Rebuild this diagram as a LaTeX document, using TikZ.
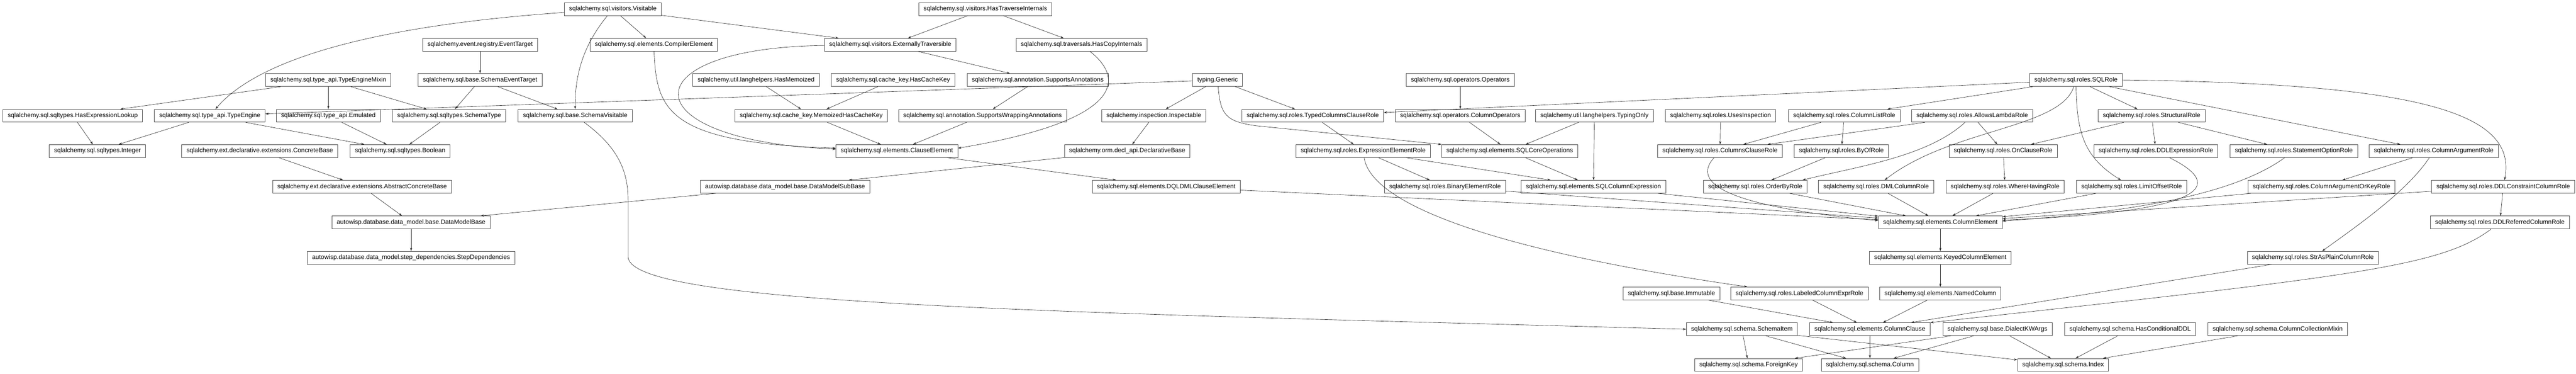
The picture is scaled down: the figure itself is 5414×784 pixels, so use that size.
\documentclass[tikz,border=0pt]{standalone}
\usepackage{fontspec}
\setmainfont{Liberation Sans}
\usetikzlibrary{arrows.meta}
\tikzset{>={Stealth[length=7pt,width=4.5pt]}}
\tikzset{cls/.style={draw=black!70, fill=white, line width=0.9pt, inner xsep=10pt, inner ysep=0pt, minimum height=27pt, font=\fontsize{13.2}{15}\selectfont}}
\tikzset{inh/.style={->, draw=black!85, line width=0.7pt}}

\begin{document}
\begin{tikzpicture}[x=1pt, y=-1pt]
    \useasboundingbox (0,0) rectangle (5414,784);

    \node[cls] (visitable) at (1288,19) {sqlalchemy.sql.visitors.Visitable};
    \node[cls] (hastraverse) at (2071,19) {sqlalchemy.sql.visitors.HasTraverseInternals};

    \node[cls] (eventtarget) at (1009,94) {sqlalchemy.event.registry.EventTarget};
    \node[cls] (compilerel) at (1374,94) {sqlalchemy.sql.elements.CompilerElement};
    \node[cls] (exttrav) at (1871,94) {sqlalchemy.sql.visitors.ExternallyTraversible};
    \node[cls] (hascopy) at (2273,94) {sqlalchemy.sql.traversals.HasCopyInternals};

    \node[cls] (temixin) at (690,168) {sqlalchemy.sql.type\_api.TypeEngineMixin};
    \node[cls] (schemaevt) at (1009,168) {sqlalchemy.sql.base.SchemaEventTarget};
    \node[cls] (hasmemo) at (1589,168) {sqlalchemy.util.langhelpers.HasMemoized};
    \node[cls] (hascache) at (1877,168) {sqlalchemy.sql.cache\_key.HasCacheKey};
    \node[cls] (suppann) at (2181,168) {sqlalchemy.sql.annotation.SupportsAnnotations};
    \node[cls] (generic) at (2559,168) {typing.Generic};
    \node[cls] (operators) at (3069,168) {sqlalchemy.sql.operators.Operators};
    \node[cls] (sqlrole) at (4363,168) {sqlalchemy.sql.roles.SQLRole};

    \node[cls] (hasexpr) at (153,243) {sqlalchemy.sql.sqltypes.HasExpressionLookup};
    \node[cls] (typeengine) at (441,243) {sqlalchemy.sql.type\_api.TypeEngine};
    \node[cls] (emulated) at (690,243) {sqlalchemy.sql.type\_api.Emulated};
    \node[cls] (schematype) at (944,243) {sqlalchemy.sql.sqltypes.SchemaType};
    \node[cls] (schemavis) at (1209,243) {sqlalchemy.sql.base.SchemaVisitable};
    \node[cls] (memocache) at (1705,243) {sqlalchemy.sql.cache\_key.MemoizedHasCacheKey};
    \node[cls] (suppwrap) at (2065,243) {sqlalchemy.sql.annotation.SupportsWrappingAnnotations};
    \node[cls] (inspectable) at (2425,243) {sqlalchemy.inspection.Inspectable};
    \node[cls] (typedcols) at (2759,243) {sqlalchemy.sql.roles.TypedColumnsClauseRole};
    \node[cls] (colops) at (3069,243) {sqlalchemy.sql.operators.ColumnOperators};
    \node[cls] (typingonly) at (3351,243) {sqlalchemy.util.langhelpers.TypingOnly};
    \node[cls] (usesinsp) at (3616,243) {sqlalchemy.sql.roles.UsesInspection};
    \node[cls] (collist) at (3876,243) {sqlalchemy.sql.roles.ColumnListRole};
    \node[cls] (lambdarole) at (4145,243) {sqlalchemy.sql.roles.AllowsLambdaRole};
    \node[cls] (structural) at (4522,243) {sqlalchemy.sql.roles.StructuralRole};

    \node[cls] (integer) at (205,317) {sqlalchemy.sql.sqltypes.Integer};
    \node[cls] (concrete) at (546,317) {sqlalchemy.ext.declarative.extensions.ConcreteBase};
    \node[cls] (boolean) at (841,317) {sqlalchemy.sql.sqltypes.Boolean};
    \node[cls] (clauseel) at (1885,317) {sqlalchemy.sql.elements.ClauseElement};
    \node[cls] (declbase) at (2369,317) {sqlalchemy.orm.decl\_api.DeclarativeBase};
    \node[cls] (exprrole) at (2865,317) {sqlalchemy.sql.roles.ExpressionElementRole};
    \node[cls] (coreops) at (3173,317) {sqlalchemy.sql.elements.SQLCoreOperations};
    \node[cls] (colsclause) at (3615,317) {sqlalchemy.sql.roles.ColumnsClauseRole};
    \node[cls] (byof) at (3870,317) {sqlalchemy.sql.roles.ByOfRole};
    \node[cls] (onclause) at (4210,317) {sqlalchemy.sql.roles.OnClauseRole};
    \node[cls] (ddlexpr) at (4531,317) {sqlalchemy.sql.roles.DDLExpressionRole};
    \node[cls] (stmtopt) at (4821,317) {sqlalchemy.sql.roles.StatementOptionRole};
    \node[cls] (colarg) at (5115,317) {sqlalchemy.sql.roles.ColumnArgumentRole};

    \node[cls] (absconcrete) at (761,392) {sqlalchemy.ext.declarative.extensions.AbstractConcreteBase};
    \node[cls] (dmsubbase) at (1650,392) {autowisp.database.data\_model.base.DataModelSubBase};
    \node[cls] (dqldml) at (2451,392) {sqlalchemy.sql.elements.DQLDMLClauseElement};
    \node[cls] (binrole) at (3037,392) {sqlalchemy.sql.roles.BinaryElementRole};
    \node[cls] (colexpr) at (3349,392) {sqlalchemy.sql.elements.SQLColumnExpression};
    \node[cls] (orderby) at (3689,392) {sqlalchemy.sql.roles.OrderByRole};
    \node[cls] (dmlcol) at (3943,392) {sqlalchemy.sql.roles.DMLColumnRole};
    \node[cls] (wherehaving) at (4214,392) {sqlalchemy.sql.roles.WhereHavingRole};
    \node[cls] (limitoffset) at (4480,392) {sqlalchemy.sql.roles.LimitOffsetRole};
    \node[cls] (colargkey) at (4879,392) {sqlalchemy.sql.roles.ColumnArgumentOrKeyRole};
    \node[cls] (ddlconstr) at (5261,392) {sqlalchemy.sql.roles.DDLConstraintColumnRole};

    \node[cls] (dmbase) at (864,467) {autowisp.database.data\_model.base.DataModelBase};
    \node[cls] (colelem) at (4078,467) {sqlalchemy.sql.elements.ColumnElement};
    \node[cls] (ddlref) at (5254,467) {sqlalchemy.sql.roles.DDLReferredColumnRole};

    \node[cls] (stepdeps) at (864,541) {autowisp.database.data\_model.step\_dependencies.StepDependencies};
    \node[cls] (keyedcol) at (4078,541) {sqlalchemy.sql.elements.KeyedColumnElement};
    \node[cls] (strplain) at (4861,541) {sqlalchemy.sql.roles.StrAsPlainColumnRole};

    \node[cls] (immutable) at (3513,616) {sqlalchemy.sql.base.Immutable};
    \node[cls] (labeledexpr) at (3782,616) {sqlalchemy.sql.roles.LabeledColumnExprRole};
    \node[cls] (namedcol) at (4078,616) {sqlalchemy.sql.elements.NamedColumn};

    \node[cls] (schemaitem) at (3661,691) {sqlalchemy.sql.schema.SchemaItem};
    \node[cls] (colclause) at (3930,691) {sqlalchemy.sql.elements.ColumnClause};
    \node[cls] (dialectkw) at (4198,691) {sqlalchemy.sql.base.DialectKWArgs};
    \node[cls] (condddl) at (4477,691) {sqlalchemy.sql.schema.HasConditionalDDL};
    \node[cls] (colcoll) at (4787,691) {sqlalchemy.sql.schema.ColumnCollectionMixin};

    \node[cls] (foreignkey) at (3675,766) {sqlalchemy.sql.schema.ForeignKey};
    \node[cls] (column) at (3930,766) {sqlalchemy.sql.schema.Column};
    \node[cls] (index) at (4336,766) {sqlalchemy.sql.schema.Index};

    \draw[inh] (visitable) .. controls (700,60) and (520,150) .. (typeengine);
    \draw[inh] (visitable) .. controls (1230,90) and (1208,150) .. (schemavis);
    \draw[inh] (visitable) -- (compilerel);
    \draw[inh] (visitable) -- (exttrav);
    \draw[inh] (hastraverse) -- (exttrav);
    \draw[inh] (hastraverse) -- (hascopy);
    \draw[inh] (eventtarget) -- (schemaevt);
    \draw[inh] (temixin) -- (hasexpr);
    \draw[inh] (temixin) -- (emulated);
    \draw[inh] (temixin) -- (schematype);
    \draw[inh] (generic) -- (typeengine);
    \draw[inh] (generic) -- (inspectable);
    \draw[inh] (generic) -- (typedcols);
    \draw[inh] (generic) .. controls (2565,240) and (2575,255) .. (2640,264) -- (coreops.north west);
    \draw[inh] (schemaevt) -- (schematype);
    \draw[inh] (schemaevt) -- (schemavis);
    \draw[inh] (hasmemo) -- (memocache);
    \draw[inh] (hascache) -- (memocache);
    \draw[inh] (exttrav) -- (suppann);
    \draw[inh] (suppann) -- (suppwrap);
    \draw[inh] (hasexpr) -- (integer);
    \draw[inh] (typeengine) -- (integer);
    \draw[inh] (typeengine) -- (boolean);
    \draw[inh] (emulated) -- (boolean);
    \draw[inh] (schematype) -- (boolean);
    \draw[inh] (compilerel) .. controls (1380,230) and (1400,300) .. ([yshift=6pt]clauseel.west);
    \draw[inh] (exttrav) .. controls (1320,100) and (1320,295) .. ([yshift=4pt]clauseel.west);
    \draw[inh] (hascopy) .. controls (2370,170) and (2350,255) .. ([yshift=6pt]clauseel.east);
    \draw[inh] (memocache) -- (clauseel);
    \draw[inh] (suppwrap) -- (clauseel);
    \draw[inh] (inspectable) -- (declbase);
    \draw[inh] (clauseel) -- (dqldml);
    \draw[inh] (declbase) -- (dmsubbase);
    \draw[inh] (concrete) -- (absconcrete);
    \draw[inh] (absconcrete) -- (dmbase);
    \draw[inh] (dmsubbase) -- (dmbase);
    \draw[inh] (dmbase) -- (stepdeps);
    \draw[inh] (schemavis) .. controls (1300,310) and (1320,360) .. (1320,420) -- (1320,540) .. controls (1330,640) and (2200,655) .. (schemaitem.west);

    \draw[inh] (operators) -- (colops);
    \draw[inh] (colops) -- (coreops);
    \draw[inh] (typingonly) -- (coreops);
    \draw[inh] (typingonly) -- (colexpr);
    \draw[inh] (coreops) -- (colexpr);
    \draw[inh] (typedcols) -- (exprrole);
    \draw[inh] (exprrole) -- (colexpr);
    \draw[inh] (exprrole) -- (binrole);
    \draw[inh] (exprrole) .. controls (2880,420) and (3100,520) .. ([xshift=35pt]labeledexpr.north west);

    \draw[inh] (sqlrole) -- (typedcols);
    \draw[inh] (sqlrole) -- (collist);
    \draw[inh] (sqlrole) -- (structural);
    \draw[inh] (sqlrole) -- (colarg);
    \draw[inh] (sqlrole) .. controls (4330,270) and (4100,270) .. (dmlcol);
    \draw[inh] (sqlrole) .. controls (4365,280) and (4380,330) .. (limitoffset);
    \draw[inh] (sqlrole.east) .. controls (5100,175) and (5290,240) .. (ddlconstr);
    \draw[inh] (usesinsp) -- (colsclause);
    \draw[inh] (collist) -- (colsclause);
    \draw[inh] (collist) -- (byof);
    \draw[inh] (lambdarole) -- (colsclause);
    \draw[inh] (lambdarole) .. controls (4050,330) and (3900,350) .. ([xshift=-10pt]orderby.north east);
    \draw[inh] (lambdarole) -- (onclause);
    \draw[inh] (byof) -- (orderby);
    \draw[inh] (structural) -- (onclause);
    \draw[inh] (structural) -- (ddlexpr);
    \draw[inh] (structural) -- (stmtopt);
    \draw[inh] (onclause) -- (wherehaving);
    \draw[inh] (colarg) -- (colargkey);
    \draw[inh] (colarg) .. controls (5060,400) and (4960,470) .. (strplain);
    \draw[inh] (ddlconstr) -- (ddlref);

    \draw[inh] (binrole) -- (colelem);
    \draw[inh] (colexpr) -- (colelem);
    \draw[inh] (dqldml) -- (colelem);
    \draw[inh] (colsclause) .. controls (3540,400) and (3700,440) .. ([yshift=4pt]colelem.west);
    \draw[inh] (orderby) -- (colelem);
    \draw[inh] (dmlcol) -- (colelem);
    \draw[inh] (wherehaving) -- (colelem);
    \draw[inh] (limitoffset) -- (colelem);
    \draw[inh] (ddlexpr) .. controls (4680,390) and (4640,445) .. ([yshift=5pt]colelem.east);
    \draw[inh] (stmtopt) .. controls (4720,390) and (4560,440) .. ([yshift=3pt]colelem.east);
    \draw[inh] (colargkey) -- (colelem);
    \draw[inh] (ddlconstr) -- (colelem);

    \draw[inh] (colelem) -- (keyedcol);
    \draw[inh] (keyedcol) -- (namedcol);
    \draw[inh] (namedcol) -- (colclause);
    \draw[inh] (strplain) -- (colclause);
    \draw[inh] (ddlref) .. controls (5130,560) and (4950,580) .. (colclause.north east);
    \draw[inh] (immutable) -- (colclause);
    \draw[inh] (labeledexpr) -- (colclause);

    \draw[inh] (schemaitem) -- (foreignkey);
    \draw[inh] (schemaitem) -- (column);
    \draw[inh] (schemaitem) -- (index);
    \draw[inh] (dialectkw) -- (foreignkey);
    \draw[inh] (dialectkw) -- (column);
    \draw[inh] (dialectkw) -- (index);
    \draw[inh] (colclause) -- (column);
    \draw[inh] (condddl) -- (index);
    \draw[inh] (colcoll) -- (index);
\end{tikzpicture}
\end{document}
